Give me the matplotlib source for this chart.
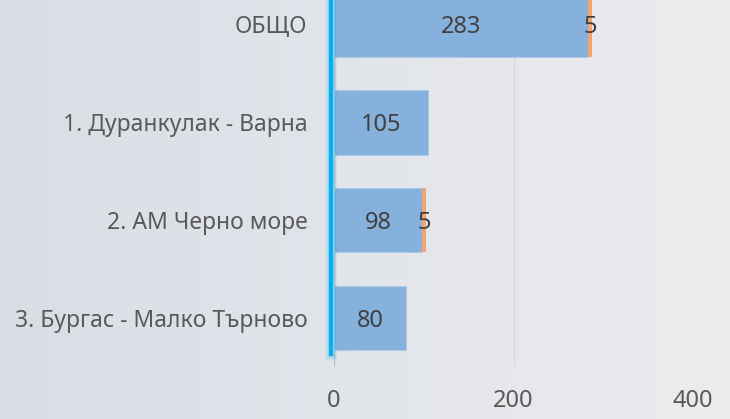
import matplotlib.pyplot as plt
import numpy as np

plt.rcParams['font.family'] = ['Noto Sans', 'DejaVu Sans']

categories = ["ОБЩО", "1. Дуранкулак - Варна", "2. АМ Черно море", "3. Бургас - Малко Търново"]
series_a = [283, 105, 98, 80]
series_b = [5, 0, 5, 0]
x_ticks = [0, 200, 400]

blue = "#85B1DC"
orange = "#F2A36E"

fig = plt.figure(figsize=(7.3, 4.19), dpi=100)

# background gradient
bg = fig.add_axes([0, 0, 1, 1], zorder=-10)
left = np.array([0.85, 0.87, 0.90])
right = np.array([0.925, 0.927, 0.935])
t = np.linspace(0, 1, 256)[None, :, None]
bg.imshow(left + (right - left) * t, aspect="auto", extent=[0, 1, 0, 1])
bg.axis("off")

ax = fig.add_axes([334 / 730, 52 / 419, 359 / 730, 367 / 419])
ax.set_facecolor("none")

y = np.arange(len(categories))[::-1]
ax.barh(y, series_a, height=0.66, color=blue, edgecolor="#A9C8E8", lw=0.6, zorder=3)
ax.barh(y, series_b, left=series_a, height=0.66, color=orange, zorder=3)

for yi, a, b in zip(y, series_a, series_b):
    ax.text(a / 2, yi, str(a), ha="center", va="center_baseline", fontsize=17, color="#404040", zorder=5)
    if b:
        ax.text(a + b / 2, yi, str(b), ha="center", va="center_baseline", fontsize=17, color="#404040", zorder=5)

ax.set_xlim(0, 400)
ax.set_ylim(-0.5, 3.25)
ax.set_xticks(x_ticks)
ax.set_xticklabels([str(v) for v in x_ticks])
ax.set_yticks(y)
ax.set_yticklabels(categories)
ax.tick_params(axis="x", length=0, pad=16, labelsize=17, labelcolor="#595959")
ax.tick_params(axis="y", length=0, pad=19, labelsize=16.5, labelcolor="#595959")
for v in x_ticks:
    ax.axvline(v, color="#BFBFBF" if v == 0 else "#D6D8DC", lw=1, zorder=1)
for s in ax.spines.values():
    s.set_visible(False)

# bright axis line with glow
x0 = 331 / 730
for w, a in [(12, 0.08), (9, 0.12), (6, 0.2)]:
    fig.add_artist(plt.Line2D([x0, x0], [65 / 419, 1], color="#00B0F0", lw=w * 0.72, alpha=a, zorder=6))
fig.add_artist(plt.Line2D([x0, x0], [65 / 419, 1], color="#00B0F0", lw=2.8, zorder=7))

fig.savefig("out.png", dpi=100)
